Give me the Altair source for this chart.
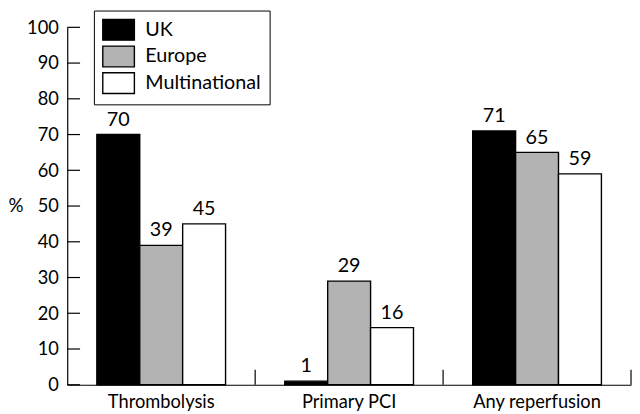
import altair as alt
import pandas as pd

groups = ["Thrombolysis", "Primary PCI", "Any reperfusion"]
series = ["UK", "Europe", "Multinational"]
uk = [70, 1, 71]
europe = [39, 29, 65]
multinational = [45, 16, 59]
colors = ["#000000", "#b3b3b3", "#ffffff"]
y_ticks = [0, 10, 20, 30, 40, 50, 60, 70, 80, 90, 100]

rows = []
for s, vals in zip(series, [uk, europe, multinational]):
    for g, v in zip(groups, vals):
        rows.append({"group": g, "series": s, "value": v})
df = pd.DataFrame(rows)
sep_df = pd.DataFrame({"group": groups, "y0": [0] * 3, "y1": [4.2] * 3})
tick_df = pd.DataFrame({"tick": y_ticks})

FONT = "Lato"
W, H = 571, 362

x_enc = alt.X("group:N", sort=groups,
              scale=alt.Scale(paddingInner=0, paddingOuter=0),
              axis=alt.Axis(title="", labelAngle=0, ticks=False, domain=True,
                            domainColor="black", domainWidth=1.2,
                            labelFontSize=18.5, labelPadding=8,
                            labelColor="black", labelFont=FONT))
xoff_enc = alt.XOffset("series:N", sort=series,
                       scale=alt.Scale(paddingOuter=0.69, paddingInner=0))
y_scale = alt.Scale(domain=[0, 100], nice=False)
y_axis = alt.Axis(title="%", titleAngle=0, titleAlign="left",
                  titleX=-60, titleY=H / 2, titleBaseline="middle",
                  titleFontSize=19, titleFontWeight="normal",
                  titleFont=FONT, titleColor="black",
                  values=y_ticks, ticks=False, grid=False,
                  labelOverlap=False,
                  domainColor="black", domainWidth=1.2,
                  labelFontSize=18.5, labelPadding=9,
                  labelColor="black", labelFont=FONT)

bars = alt.Chart(df).mark_bar(stroke="black", strokeWidth=1.4).encode(
    x=x_enc,
    xOffset=xoff_enc,
    y=alt.Y("value:Q", scale=y_scale, axis=y_axis, title="%"),
    fill=alt.Fill("series:N", sort=series,
                  scale=alt.Scale(domain=series, range=colors),
                  legend=alt.Legend(title=None)),
)

labels = alt.Chart(df).mark_text(baseline="bottom", dy=-5, fontSize=20,
                                 font=FONT, color="black").encode(
    x=alt.X("group:N", sort=groups),
    xOffset=alt.XOffset("series:N", sort=series),
    y=alt.Y("value:Q", axis=y_axis, title="%"),
    text=alt.Text("value:Q"),
)

seps = alt.Chart(sep_df).mark_rule(color="black", strokeWidth=1.2).encode(
    x=alt.X("group:N", sort=groups, bandPosition=1),
    y=alt.Y("y0:Q", axis=y_axis, title="%"),
    y2=alt.Y2("y1"),
)

yticks = alt.Chart(tick_df).mark_rule(color="black", strokeWidth=1.2).encode(
    y=alt.Y("tick:Q", axis=y_axis, title="%"),
    x=alt.value(0),
    x2=alt.value(13),
)

chart = alt.layer(bars, labels, seps, yticks).properties(
    width=W, height=H,
    autosize=alt.AutoSizeParams(type="none"),
    padding={"left": 60, "top": 17, "right": 1, "bottom": 24},
    background="white",
).configure_view(stroke=None).configure_axisY(
    labelOverlap=False
).configure_legend(
    orient="none", legendX=27, legendY=-17,
    strokeColor="black", fillColor="white", padding=8,
    symbolType="M-1,-1H2.048V1H-1Z", symbolSize=441,
    symbolStrokeColor="black", symbolStrokeWidth=1.4,
    labelFontSize=20, labelFont=FONT, labelColor="black",
    labelOffset=21, rowPadding=0,
)

chart.save("out.html", embed_options={"renderer": "svg", "actions": False})
